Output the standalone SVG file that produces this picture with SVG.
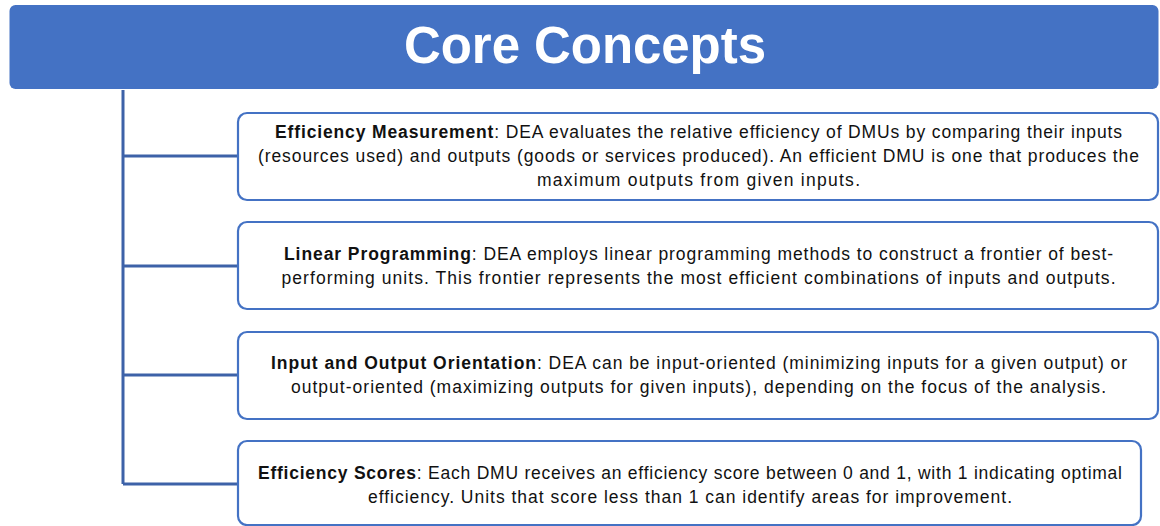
<svg xmlns="http://www.w3.org/2000/svg" width="1160" height="526" viewBox="0 0 1160 526">
  <style>
    .box { fill: #ffffff; stroke: #4472c4; stroke-width: 2.2; }
    .wire { fill: none; stroke: #3d62a8; stroke-width: 3; }
    .txt { font-family: "Liberation Sans", Arial, sans-serif; font-size: 17.5px; fill: #111111; text-anchor: middle; }
    .b { font-weight: bold; }
    .title { font-family: "Liberation Sans", Arial, sans-serif; font-size: 51px; font-weight: bold; fill: #ffffff; text-anchor: middle; }
  </style>

  <!-- header banner -->
  <g id="header">
    <rect x="9.5" y="5" width="1149" height="84" rx="6" fill="#4472c4"/>
    <text class="title" x="585" y="63" textLength="362">Core Concepts</text>
  </g>

  <!-- trunk and branches -->
  <g id="connectors">
    <path class="wire" d="M123 90 V484"/>
    <path class="wire" d="M123 156 H238"/>
    <path class="wire" d="M123 266 H238"/>
    <path class="wire" d="M123 375 H238"/>
    <path class="wire" d="M123 484 H238"/>
  </g>

  <g id="efficiency-measurement">
    <rect class="box" x="238" y="113" width="920" height="87" rx="9"/>
    <text class="txt" x="698.5" y="138" textLength="847"><tspan class="b">Efficiency Measurement</tspan>: DEA evaluates the relative efficiency of DMUs by comparing their inputs</text>
    <text class="txt" x="698.5" y="162" textLength="881">(resources used) and outputs (goods or services produced). An efficient DMU is one that produces the</text>
    <text class="txt" x="698.5" y="186" textLength="323">maximum outputs from given inputs.</text>
  </g>

  <g id="linear-programming">
    <rect class="box" x="238" y="222" width="920" height="87" rx="9"/>
    <text class="txt" x="698.5" y="260" textLength="829"><tspan class="b">Linear Programming</tspan>: DEA employs linear programming methods to construct a frontier of best-</text>
    <text class="txt" x="698.5" y="284" textLength="834">performing units. This frontier represents the most efficient combinations of inputs and outputs.</text>
  </g>

  <g id="orientation">
    <rect class="box" x="238" y="332" width="920" height="87" rx="9"/>
    <text class="txt" x="699" y="369" textLength="856"><tspan class="b">Input and Output Orientation</tspan>: DEA can be input-oriented (minimizing inputs for a given output) or</text>
    <text class="txt" x="698.5" y="393" textLength="815">output-oriented (maximizing outputs for given inputs), depending on the focus of the analysis.</text>
  </g>

  <g id="efficiency-scores">
    <rect class="box" x="238" y="441" width="903" height="84" rx="9"/>
    <text class="txt" x="690" y="479" textLength="864"><tspan class="b">Efficiency Scores</tspan>: Each DMU receives an efficiency score between 0 and 1, with 1 indicating optimal</text>
    <text class="txt" x="690" y="503" textLength="644">efficiency. Units that score less than 1 can identify areas for improvement.</text>
  </g>
</svg>
